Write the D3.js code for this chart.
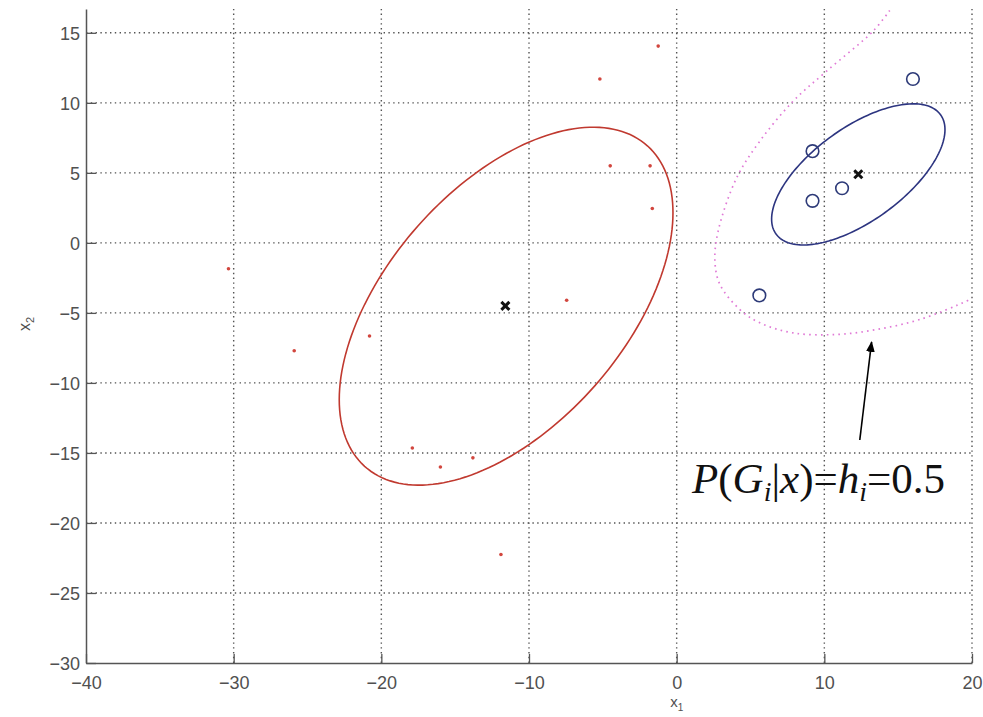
<!DOCTYPE html>
<html><head><meta charset="utf-8">
<script src="https://cdn.jsdelivr.net/npm/d3@7"></script>
<style>body{margin:0;background:#fff;} svg{display:block;}</style>
</head><body>
<script>
// ---- data ----
const xTicks = [-40, -30, -20, -10, 0, 10, 20];
const yTicks = [-30, -25, -20, -15, -10, -5, 0, 5, 10, 15];
const redX = [-1.25, -5.2, -4.5, -1.8, -1.65, -7.45, -20.8, -17.9, -16.0, -13.8, -30.35, -25.9, -11.9];
const redY = [14.05, 11.7, 5.5, 5.5, 2.45, -4.1, -6.65, -14.65, -16.0, -15.35, -1.85, -7.7, -22.25];
const blueX = [16.0, 9.2, 11.2, 9.2, 5.6];
const blueY = [11.7, 6.55, 3.9, 3.0, -3.75];
const meanX = [-11.6, 12.3];
const meanY = [-4.5, 4.9];
// ellipse contours: centre, std-x, std-y, covariance
const ellCx = [-11.55, 12.3];
const ellCy = [-4.52, 4.89];
const ellSx = [11.3, 5.87];
const ellSy = [12.78, 5.04];
const ellCov = [75.4, 18.75];
const ellColor = ["#c0392f", "#2d3580"];
// h = 0.5 boundary
const bndX = [14.43, 13.3, 10.15, 7.89, 5.63, 4.06, 2.81, 2.59, 2.93, 4.28, 5.63, 7.89, 10.83, 13.53, 16.47, 19.63, 20.0];
const bndY = [16.6, 15.12, 12.26, 10.12, 7.26, 4.64, 0.84, -1.31, -2.97, -4.76, -5.71, -6.43, -6.54, -6.19, -5.47, -4.16, -3.95];

const W = 983, H = 717;
const svg = d3.select("body").append("svg").attr("width", W).attr("height", H);
const x = d3.scaleLinear().domain([-40, 20]).range([86, 972]);
const y = d3.scaleLinear().domain([-30, 16.7]).range([663, 9]);

svg.append("defs").append("clipPath").attr("id", "clip")
  .append("rect").attr("x", 86).attr("y", 9).attr("width", 886).attr("height", 654);
svg.select("defs").append("marker").attr("id", "arr").attr("viewBox", "0 0 10 10")
  .attr("refX", 9).attr("refY", 5).attr("markerWidth", 11).attr("markerHeight", 11)
  .attr("markerUnits", "userSpaceOnUse").attr("orient", "auto")
  .append("path").attr("d", "M0,1 L10,5 L0,9 Z").attr("fill", "#000");

// grid
const grid = svg.append("g").attr("stroke", "#2a2a2a").attr("stroke-width", 1.4)
  .attr("stroke-dasharray", "1.4,3.4").attr("opacity", 0.8);
xTicks.filter(d => d > -40).forEach(d => grid.append("line")
  .attr("x1", x(d)).attr("x2", x(d)).attr("y1", y(-30)).attr("y2", 9));
yTicks.filter(d => d > -30).forEach(d => grid.append("line")
  .attr("x1", x(-40)).attr("x2", x(20)).attr("y1", y(d)).attr("y2", y(d)));

// axes
const axB = d3.axisBottom(x).tickValues(xTicks).tickSizeInner(-9).tickSizeOuter(0).tickPadding(16);
const axL = d3.axisLeft(y).tickValues(yTicks).tickSizeInner(-10).tickSizeOuter(0).tickPadding(16);
const gB = svg.append("g").attr("transform", `translate(0,${y(-30)})`).call(axB);
const gL = svg.append("g").attr("transform", `translate(${x(-40)},0)`).call(axL);
[gB, gL].forEach(g => {
  g.select(".domain").attr("stroke", "#555").attr("stroke-width", 1.5);
  g.selectAll(".tick line").attr("stroke", "#555").attr("stroke-width", 1.3);
  g.selectAll("text").attr("fill", "#505050").attr("font-family", "'Liberation Sans', Arial, sans-serif")
    .attr("font-size", 18);
});
gB.selectAll("text").attr("dy", "0.55em");
gL.selectAll("text").attr("dy", "0.35em");
gL.selectAll(".tick text").attr("x", -6);

// axis labels
const xl = svg.append("text").attr("x", x(0)).attr("y", 707).attr("text-anchor", "middle")
  .attr("font-family", "'Liberation Sans', Arial, sans-serif").attr("font-size", 15).attr("fill", "#505050");
xl.append("tspan").text("x");
xl.append("tspan").attr("font-size", 10).attr("dy", 4).text("1");
const yl = svg.append("text").attr("transform", "translate(30,324) rotate(-90)").attr("text-anchor", "middle")
  .attr("font-family", "'Liberation Sans', Arial, sans-serif").attr("font-size", 16).attr("fill", "#505050");
yl.append("tspan").text("x");
yl.append("tspan").attr("font-size", 11).attr("dy", 4).text("2");

const plot = svg.append("g").attr("clip-path", "url(#clip)");

// boundary (dotted magenta)
plot.append("path")
  .datum(bndX.map((d, i) => [d, bndY[i]]))
  .attr("d", d3.line().x(d => x(d[0])).y(d => y(d[1])).curve(d3.curveCatmullRom))
  .attr("fill", "none").attr("stroke", "#e07ad6").attr("stroke-width", 1.7)
  .attr("stroke-dasharray", "1.6,4.2");

// ellipses
const ts = d3.range(0, 361, 2).map(d => d * Math.PI / 180);
ellCx.forEach((cx, k) => {
  const p = ellSx[k];
  const r = ellCov[k] / p;
  const s = Math.sqrt(ellSy[k] * ellSy[k] - r * r);
  const pts = ts.map(t => [cx + p * Math.cos(t), ellCy[k] + r * Math.cos(t) + s * Math.sin(t)]);
  plot.append("path").datum(pts)
    .attr("d", d3.line().x(d => x(d[0])).y(d => y(d[1])))
    .attr("fill", "none").attr("stroke", ellColor[k]).attr("stroke-width", 1.6);
});

// red points
plot.selectAll("circle.red").data(redX).join("circle").attr("class", "red")
  .attr("cx", d => x(d)).attr("cy", (d, i) => y(redY[i])).attr("r", 1.8).attr("fill", "#d2463e");
// blue circles
plot.selectAll("circle.blue").data(blueX).join("circle").attr("class", "blue")
  .attr("cx", d => x(d)).attr("cy", (d, i) => y(blueY[i])).attr("r", 6.3)
  .attr("fill", "none").attr("stroke", "#2d3a78").attr("stroke-width", 1.6);
// means
meanX.forEach((mx, i) => {
  const cx = x(mx), cy = y(meanY[i]), s = 4;
  plot.append("path").attr("d", `M${cx - s},${cy - s}L${cx + s},${cy + s}M${cx - s},${cy + s}L${cx + s},${cy - s}`)
    .attr("stroke", "#111").attr("stroke-width", 3);
});

// annotation arrow
svg.append("line").attr("x1", x(12.4)).attr("y1", 440).attr("x2", x(13.2)).attr("y2", 342)
  .attr("stroke", "#000").attr("stroke-width", 1.6).attr("marker-end", "url(#arr)");

// annotation text
const at = svg.append("text").attr("x", 692).attr("y", 493)
  .attr("font-family", "'Liberation Serif', 'DejaVu Serif', serif").attr("font-size", 43).attr("fill", "#111");
const parts = [["P", true], ["(", false], ["G", true], ["i", true, "sub"], ["|", false], ["x", true], [")", false],
  ["=", false], ["h", true], ["i", true, "sub"], ["=", false], ["0.5", false]];
let shifted = false;
parts.forEach(pt => {
  const ts2 = at.append("tspan").text(pt[0]).attr("font-style", pt[1] ? "italic" : "normal");
  if (pt[2] === "sub") { ts2.attr("font-size", 28).attr("dy", 8); shifted = true; }
  else if (shifted) { ts2.attr("dy", -8); shifted = false; }
});
</script>
</body></html>
